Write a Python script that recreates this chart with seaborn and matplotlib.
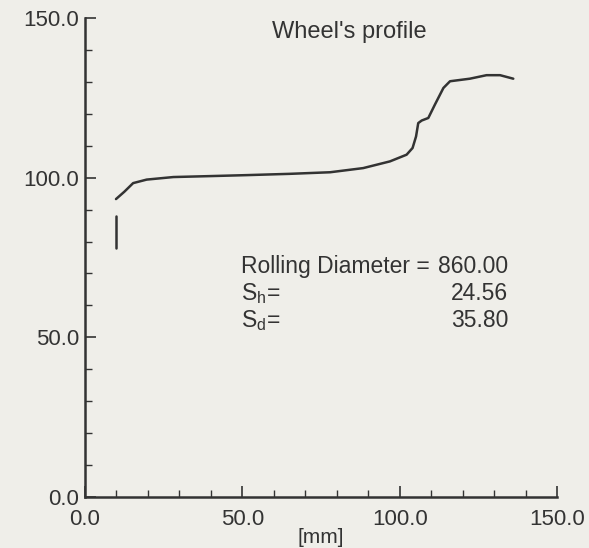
import matplotlib
matplotlib.use("Agg")
import matplotlib.pyplot as plt
import seaborn as sns
import pandas as pd
from matplotlib.ticker import MultipleLocator

# profile of the wheel
profile_x = [9.85, 12.5, 15.3, 19.6, 28.1, 40.0, 51.4, 65.0, 77.9, 88.4, 96.9,
             102.2, 104.1, 105.2, 105.9, 107.0, 109.1, 111.2, 113.9, 116.0,
             122.3, 127.6, 131.9, 136.1]
profile_y = [93.3, 95.6, 98.3, 99.4, 100.2, 100.5, 100.8, 101.2, 101.7, 103.0, 105.1,
             107.2, 109.3, 112.9, 117.1, 117.9, 118.7, 122.9, 128.1, 130.2,
             131.0, 132.1, 132.1, 131.0]
# short vertical stroke under the start of the profile
stroke_x = [9.85, 9.85]
stroke_y = [88.1, 78.0]

labels = ["Rolling Diameter =", r"S$_\mathrm{h}$=", r"S$_\mathrm{d}$="]
values = ["860.00", "24.56", "35.80"]

sns.set_style("ticks")
plt.rcParams['font.family'] = ['Liberation Sans', 'DejaVu Sans']
plt.rcParams['mathtext.fontset'] = 'custom'
plt.rcParams['mathtext.rm'] = 'Liberation Sans'
plt.rcParams['mathtext.it'] = 'Liberation Sans'

bg = '#efeee9'
ink = '#333333'
fig = plt.figure(figsize=(5.89, 5.48), dpi=100, facecolor=bg)
ax = fig.add_axes([0.1443, 0.0931, 0.8014, 0.874])
ax.set_facecolor(bg)

df = pd.DataFrame({'x': profile_x, 'y': profile_y})
sns.lineplot(data=df, x='x', y='y', sort=False, estimator=None,
             color=ink, linewidth=1.8, ax=ax)
sns.lineplot(x=stroke_x, y=stroke_y, sort=False, estimator=None,
             color=ink, linewidth=1.8, ax=ax)

ax.set_xlim(0, 150)
ax.set_ylim(0, 150)
ax.xaxis.set_major_locator(MultipleLocator(50))
ax.xaxis.set_minor_locator(MultipleLocator(10))
ax.yaxis.set_major_locator(MultipleLocator(50))
ax.yaxis.set_minor_locator(MultipleLocator(10))
ax.xaxis.set_major_formatter(lambda v, p: f"{v:.1f}")
ax.yaxis.set_major_formatter(lambda v, p: f"{v:.1f}")
ax.tick_params(which='major', direction='in', length=8, width=1.2, color=ink,
               labelsize=16, labelcolor=ink)
ax.tick_params(which='minor', direction='in', length=5, width=1.0, color=ink)
ax.tick_params(axis='x', which='major', pad=9)
ax.tick_params(axis='y', which='major', pad=4)
sns.despine(ax=ax)
for s in ('left', 'bottom'):
    ax.spines[s].set_color(ink)
    ax.spines[s].set_linewidth(1.8)

ax.set_xlabel('[mm]', fontsize=15, color=ink, labelpad=-2)
ax.set_ylabel('')
ax.set_title("Wheel's profile", fontsize=17, color=ink, x=0.56, y=0.94)

ys = [72.3, 63.7, 55.3]
for lab, val, yy in zip(labels, values, ys):
    ax.text(49.5, yy, lab, fontsize=16.5, color=ink, va='center', ha='left')
    ax.text(134.5, yy, val, fontsize=16.5, color=ink, va='center', ha='right')

fig.savefig('out.png', dpi=100, facecolor=bg)
